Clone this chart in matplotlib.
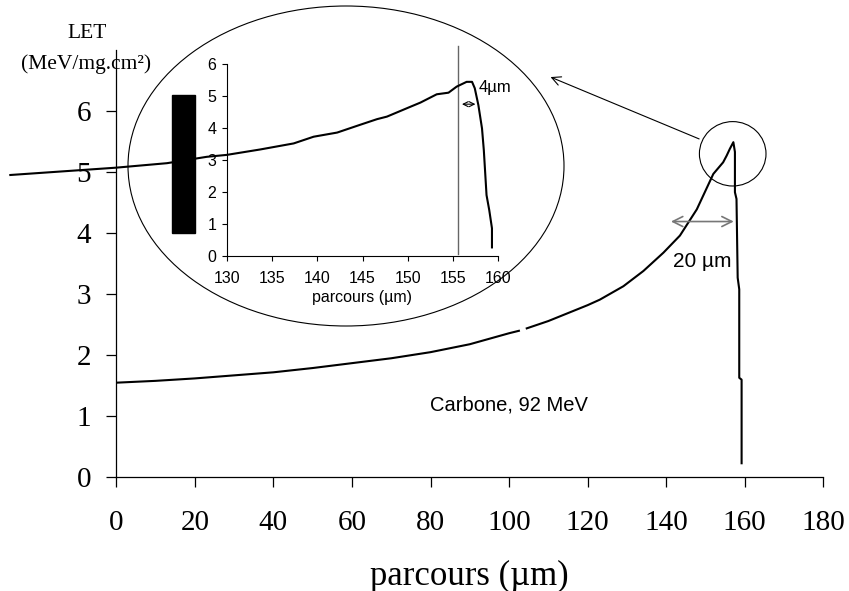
import matplotlib
matplotlib.use("Agg")
import matplotlib.pyplot as plt
from matplotlib.patches import Ellipse, Rectangle
import numpy as np

W, H = 849, 591

# ---- data ----
main_x = [0, 10, 20, 30, 40, 50, 60, 70, 80, 90, 100, 102.5, np.nan, 104.5, 110, 115,
          120, 123.1, 129.1, 134.2, 139.3, 143.5, 147.8, 152.0, 154.5, 155.4, 156.2,
          157.1, 157.5, 157.5, 157.9, 158.2, 158.6, 158.6, 159.2, 159.2]
main_y = [1.55, 1.58, 1.62, 1.67, 1.72, 1.79, 1.87, 1.95, 2.05, 2.18, 2.36, 2.40, np.nan,
          2.44, 2.56, 2.69, 2.82, 2.91, 3.13, 3.38, 3.68, 3.96, 4.39, 4.97, 5.16, 5.27,
          5.38, 5.49, 5.33, 4.67, 4.56, 3.27, 3.08, 1.63, 1.60, 0.23]

inset_x = [106.1, 117.8, 123.4, 127.8, 130.0, 133.7, 137.4, 139.6, 142.2, 144.7,
           146.6, 147.7, 150.3, 151.4, 153.2, 154.5, 155.4, 156.5, 157.1, 157.4,
           157.8, 158.2, 158.4, 158.7, 159.0, 159.3, 159.3]
inset_y = [2.53, 2.76, 2.90, 3.10, 3.16, 3.33, 3.52, 3.73, 3.86, 4.10, 4.28, 4.36,
           4.67, 4.80, 5.06, 5.11, 5.30, 5.45, 5.45, 5.25, 4.72, 3.99, 3.31, 1.90,
           1.43, 0.86, 0.26]

main_xticks = [0, 20, 40, 60, 80, 100, 120, 140, 160, 180]
main_yticks = [0, 1, 2, 3, 4, 5, 6]
inset_xticks = [130, 135, 140, 145, 150, 155, 160]
inset_yticks = [0, 1, 2, 3, 4, 5, 6]

fig = plt.figure(figsize=(W / 100, H / 100), dpi=100)

def fx(x):
    return x / W

def fy(y):
    return 1 - y / H

serif = "Liberation Serif"
sans = "Liberation Sans"

# ---- main axes ----
L, R, B, T = 116.3, 823.3, 477.3, 50
ax = fig.add_axes([fx(L), fy(B), fx(R) - fx(L), fy(T) - fy(B)])
ax.patch.set_alpha(0)
ax.plot(main_x, main_y, color="black", lw=1.5, solid_joinstyle="round")
ax.set_xlim(0, 180)
ax.set_ylim(0, 7)
ax.set_xticks(main_xticks)
ax.set_yticks(main_yticks)
for s in ["top", "right"]:
    ax.spines[s].set_visible(False)
for s in ["left", "bottom"]:
    ax.spines[s].set_linewidth(0.9)
ax.tick_params(axis="both", direction="out", length=7, width=0.9)
ax.tick_params(axis="x", pad=16.5)
ax.tick_params(axis="y", pad=11)
for lab in ax.get_xticklabels() + ax.get_yticklabels():
    lab.set_fontfamily(serif)
    lab.set_fontsize(21)
ax.set_xlabel("parcours (µm)", fontfamily=serif, fontsize=25, labelpad=17)

ax.annotate("", xy=(140.5, 4.19), xytext=(157.9, 4.19),
            arrowprops=dict(arrowstyle="<->", color="#777777", lw=1.2,
                            mutation_scale=18))
ax.text(141.65, 3.45, "20 µm", fontfamily=sans, fontsize=15, ha="left", va="baseline")
ax.text(100, 1.19, "Carbone, 92 MeV", fontfamily=sans, fontsize=14.5,
        ha="center", va="center")

# ---- inset axes ----
iL, iR, iB, iT = 226.7, 498.3, 255.7, 64.3
ins = fig.add_axes([fx(iL), fy(iB), fx(iR) - fx(iL), fy(iT) - fy(iB)])
ins.patch.set_alpha(0)
ins.plot(inset_x, inset_y, color="black", lw=1.5, clip_on=False, zorder=5)
ins.plot([155.6, 155.6], [0.05, 6.57], color="#666666", lw=1.0, clip_on=False)
ins.set_xlim(130, 160)
ins.set_ylim(0, 6)
ins.set_xticks(inset_xticks)
ins.set_yticks(inset_yticks)
for s in ["top", "right"]:
    ins.spines[s].set_visible(False)
for s in ["left", "bottom"]:
    ins.spines[s].set_linewidth(0.8)
ins.tick_params(axis="both", direction="out", length=3.5, width=0.8, labelsize=11.5)
ins.tick_params(axis="x", pad=7.5)
ins.tick_params(axis="y", pad=4)
for lab in ins.get_xticklabels() + ins.get_yticklabels():
    lab.set_fontfamily(sans)
ins.set_xlabel("parcours (µm)", fontfamily=sans, fontsize=11.5, labelpad=3)
ins.annotate("", xy=(155.68, 4.75), xytext=(157.78, 4.75),
             arrowprops=dict(arrowstyle="<->", color="black", lw=0.8, mutation_scale=9))
ins.text(157.78, 5.14, "4µm", fontfamily=sans, fontsize=12, ha="left", va="baseline")

# ---- overlay decorations (pixel coordinates) ----
ov = fig.add_axes([0, 0, 1, 1])
ov.set_xlim(0, W)
ov.set_ylim(H, 0)
ov.axis("off")
ov.patch.set_alpha(0)
ov.add_patch(Ellipse((346, 166), 2 * 218, 2 * 160, fill=False, edgecolor="black", lw=0.8))
ov.add_patch(Ellipse((732.7, 153.8), 66.6, 64.4, fill=False, edgecolor="black", lw=0.8))
ov.add_patch(Rectangle((171.7, 95), 23.3, 137.7, color="black"))
ov.annotate("", xy=(548, 76), xytext=(701.7, 140),
            arrowprops=dict(arrowstyle="->", color="black", lw=0.8, mutation_scale=16))

fig.text(fx(87.5), fy(34), "LET", fontfamily=serif, fontsize=15.5, ha="center", va="center")
fig.text(fx(86), fy(64), "(MeV/mg.cm²)", fontfamily=serif, fontsize=15.5, ha="center", va="center")

fig.savefig("out.png", dpi=100)
